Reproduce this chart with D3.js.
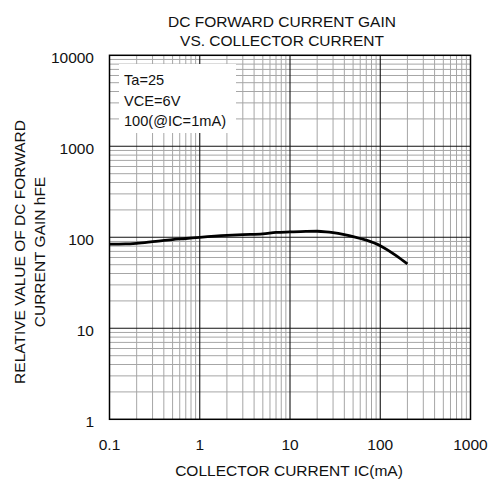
<!DOCTYPE html>
<html>
<head>
<meta charset="utf-8">
<script src="https://cdn.jsdelivr.net/npm/d3@7"></script>
<style>
html,body{margin:0;padding:0;background:#fff;}
svg{display:block;font-family:"Liberation Sans",Arial,sans-serif;}
</style>
</head>
<body>
<svg id="chart" width="489" height="486"></svg>
<script>
// Data
const collectorCurrent = [0.1, 0.15, 0.2, 0.3, 0.5, 0.7, 1, 2, 3, 5, 7, 10, 15, 20, 25, 30, 40, 50, 70, 100, 150, 200];
const hfeValues       = [84, 84.5, 86, 89.5, 94.5, 97, 100, 105, 107, 109, 113, 114.5, 116, 116.5, 115, 112.5, 107, 102, 93, 81, 63, 51];
const xTicks = [0.1, 1, 10, 100, 1000];
const xTickLabels = ["0.1", "1", "10", "100", "1000"];
const yTicks = [1, 10, 100, 1000, 10000];
const yTickLabels = ["1", "10", "100", "1000", "10000"];
const titleLines = ["DC FORWARD CURRENT GAIN", "VS. COLLECTOR CURRENT"];
const xTitle = "COLLECTOR CURRENT IC(mA)";
const yTitleLines = ["RELATIVE VALUE OF DC FORWARD", "CURRENT GAIN hFE"];
const noteLines = ["Ta=25", "VCE=6V", "100(@IC=1mA)"];

(function () {
const svg = d3.select("#chart");
const pL = 109.5, pR = 470.5, pT = 55.3, pB = 419.3;

const x = d3.scaleLog().domain([0.1, 1000]).range([pL, pR]);
const y = d3.scaleLog().domain([1, 10000]).range([pB, pT]);

// minor values
const minorX = [], minorY = [];
for (let d = -1; d < 3; d++) for (let k = 2; k <= 9; k++) minorX.push(k * Math.pow(10, d));
for (let d = 0; d < 4; d++) for (let k = 2; k <= 9; k++) minorY.push(k * Math.pow(10, d));

const g = svg.append("g");
g.selectAll(".mx").data(minorX).enter().append("line")
  .attr("x1", d => x(d)).attr("x2", d => x(d)).attr("y1", pT).attr("y2", pB)
  .attr("stroke", "#a6a6a6").attr("stroke-width", 1);
g.selectAll(".my").data(minorY).enter().append("line")
  .attr("y1", d => y(d)).attr("y2", d => y(d)).attr("x1", pL).attr("x2", pR)
  .attr("stroke", "#a6a6a6").attr("stroke-width", 1);
g.selectAll(".Mx").data(xTicks.slice(1, -1)).enter().append("line")
  .attr("x1", d => x(d)).attr("x2", d => x(d)).attr("y1", pT).attr("y2", pB)
  .attr("stroke", "#111").attr("stroke-width", 1.1);
g.selectAll(".My").data(yTicks.slice(1, -1)).enter().append("line")
  .attr("y1", d => y(d)).attr("y2", d => y(d)).attr("x1", pL).attr("x2", pR)
  .attr("stroke", "#111").attr("stroke-width", 1.1);

// note box
svg.append("rect").attr("x", 119).attr("y", 64).attr("width", 117).attr("height", 69).attr("fill", "#fff");
svg.selectAll(".note").data(noteLines).enter().append("text")
  .attr("x", 124).attr("y", (d, i) => 85 + i * 20.7)
  .attr("font-size", 14.6).attr("fill", "#111").text(d => d);

// frame
svg.append("rect").attr("x", pL).attr("y", pT).attr("width", pR - pL).attr("height", pB - pT)
  .attr("fill", "none").attr("stroke", "#000").attr("stroke-width", 1.5);

// curve
svg.append("path").datum(hfeValues)
  .attr("d", d3.line().x((d, i) => x(collectorCurrent[i])).y(d => y(d)).curve(d3.curveMonotoneX))
  .attr("fill", "none").attr("stroke", "#000").attr("stroke-width", 2.8).attr("stroke-linejoin", "round");

// tick labels
svg.selectAll(".xl").data(xTicks).enter().append("text")
  .attr("x", d => x(d)).attr("y", 450).attr("text-anchor", "middle")
  .attr("font-size", 15.5).attr("fill", "#111").text((d, i) => xTickLabels[i]);
svg.selectAll(".yl").data(yTicks).enter().append("text")
  .attr("x", 94).attr("y", d => y(d) + 8).attr("text-anchor", "end")
  .attr("font-size", 15.5).attr("fill", "#111").text((d, i) => yTickLabels[i]);

// titles
svg.selectAll(".title").data(titleLines).enter().append("text")
  .attr("x", 282).attr("y", (d, i) => 26.5 + i * 19).attr("text-anchor", "middle")
  .attr("font-size", 15.5).attr("fill", "#111").text(d => d);
svg.append("text").attr("x", 289).attr("y", 476).attr("text-anchor", "middle")
  .attr("font-size", 15.5).attr("fill", "#111").text(xTitle);
svg.selectAll(".yt").data(yTitleLines).enter().append("text")
  .attr("transform", (d, i) => `translate(${25 + i * 20},252) rotate(-90)`)
  .attr("text-anchor", "middle").attr("font-size", 15.5).attr("fill", "#111").text(d => d);
})();
</script>
</body>
</html>
